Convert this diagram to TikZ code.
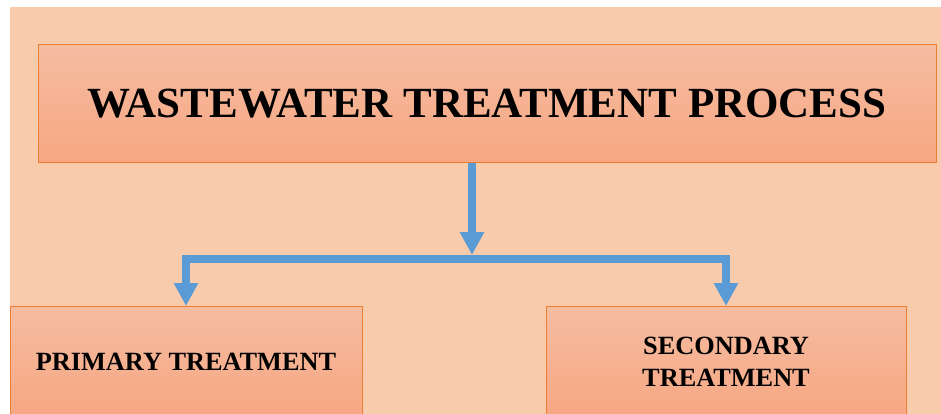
\documentclass[tikz,border=0pt]{standalone}
\usepackage{fontspec}
\setmainfont{Liberation Serif}
\usetikzlibrary{arrows.meta,positioning}
\definecolor{peach}{RGB}{248,203,173}
\definecolor{boxtop}{RGB}{245,188,161}
\definecolor{boxbot}{RGB}{247,167,130}
\definecolor{boxline}{RGB}{237,125,49}
\definecolor{flowblue}{RGB}{91,155,213}

\begin{document}
\begin{tikzpicture}[x=1pt,y=-1pt,
            stagebox/.style={
            rectangle,
            draw=boxline,
            line width=1pt,
            top color=boxtop,
            bottom color=boxbot,
            inner sep=0pt,
            align=center},
        myarrow/.style={draw=flowblue,line width=8.5pt,
            -{Triangle[width=23pt,length=23pt]}}
        ]
        \useasboundingbox (0,0) rectangle (941,414);
        \clip (0,0) rectangle (941,414);
        \fill[peach] (10,7) rectangle (941,414);

        \node[stagebox,minimum width=898pt,minimum height=118pt,
            font=\bfseries\fontsize{43}{50}\selectfont] (proc) at (487,104)
            {WASTEWATER TREATMENT PROCESS};
        \node[stagebox,minimum width=352pt,minimum height=110pt,
            font=\bfseries\fontsize{26.3}{32}\selectfont] (prim) at (186,361.5)
            {PRIMARY TREATMENT};
        \node[stagebox,minimum width=360pt,minimum height=110pt,
            font=\bfseries\fontsize{26.3}{32}\selectfont] (sec) at (726,361.5)
            {SECONDARY\\TREATMENT};

        \coordinate (hub) at (472,255);
        \coordinate (split) at (472,259);

        \draw [myarrow] (proc.south -| hub) -- (hub);
        \foreach \j in {prim,sec}
            \draw [myarrow] (split) -| (\j.north);
\end{tikzpicture}
\end{document}
